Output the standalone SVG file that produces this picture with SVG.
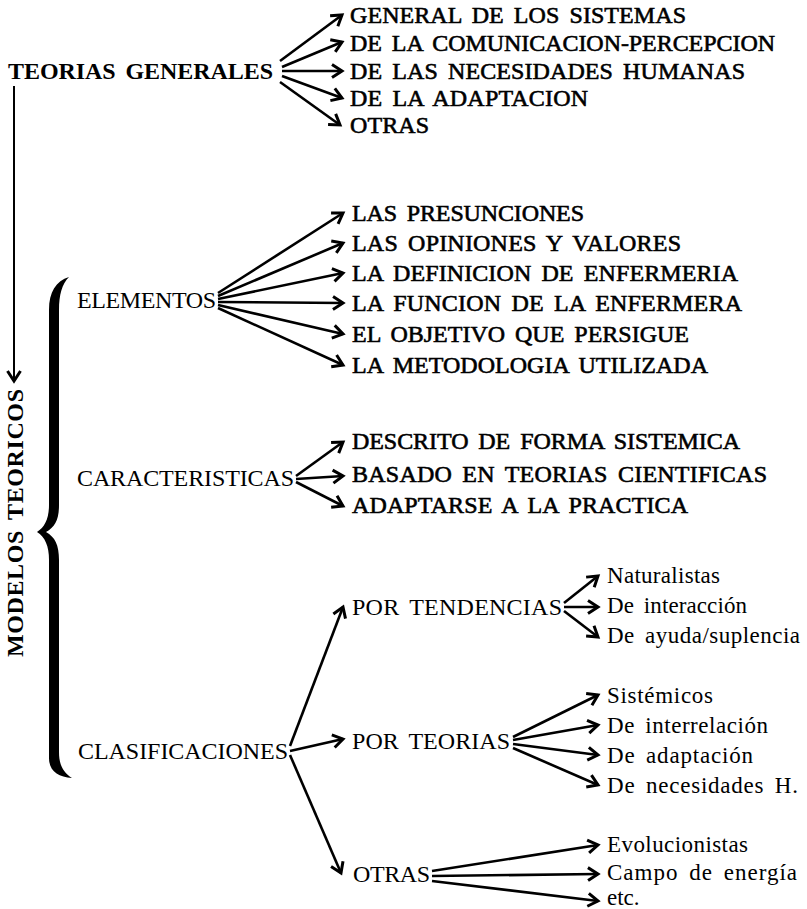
<svg xmlns="http://www.w3.org/2000/svg" width="807" height="909" viewBox="0 0 807 909">
<style>
.t{font-family:"Liberation Serif",Tinos,"Times New Roman",serif;font-size:24px;fill:#000}
.s{font-size:23px}
.b{font-weight:bold}
.h{stroke:#000;stroke-width:0.6}
.w{word-spacing:4px}
#connectors line{stroke:#000;stroke-width:2.6;fill:none;marker-end:url(#ah)}
</style>
<defs>
<marker id="ah" markerUnits="userSpaceOnUse" viewBox="-14 -9 16 18" refX="0" refY="0" markerWidth="16" markerHeight="18" orient="auto" overflow="visible">
<path d="M-10,-6.5 L0,0 L-10,6.5" fill="none" stroke="#000" stroke-width="3"/>
</marker>
</defs>
<rect width="807" height="909" fill="#fff"/>

<g id="teorias-generales">
<text class="t b w" x="8" y="79" textLength="265">TEORIAS GENERALES</text>
</g>
<g id="tg-items">
<text class="t h w" x="350" y="23" textLength="336">GENERAL DE LOS SISTEMAS</text>
<text class="t h w" x="350" y="51" textLength="425">DE LA COMUNICACION-PERCEPCION</text>
<text class="t h w" x="350" y="79" textLength="395">DE LAS NECESIDADES HUMANAS</text>
<text class="t h w" x="350" y="106" textLength="238">DE LA ADAPTACION</text>
<text class="t h w" x="350" y="133" textLength="79">OTRAS</text>
</g>

<g id="modelos-teoricos">
<text class="t b w" transform="translate(23,657) rotate(-90)" x="0" y="0" textLength="268">MODELOS TEORICOS</text>
<path d="M69,277 C56,281 49,292 49,310 L49,505 C49,518 45,527 37,532 C45,537 49,546 49,560 L49,758 C49,771 58,777 72,778 C63,772 59,765 59,752 L59,560 C59,545 55,537 46,532 C55,527 59,520 59,505 L59,310 C59,295 62,284 69,277 Z" fill="#000"/>
</g>

<g id="elementos">
<text class="t w" x="77" y="308" textLength="139">ELEMENTOS</text>
</g>
<g id="elementos-items">
<text class="t h w" x="352" y="221" textLength="232">LAS PRESUNCIONES</text>
<text class="t h w" x="352" y="251" textLength="329">LAS OPINIONES Y VALORES</text>
<text class="t h w" x="352" y="281" textLength="386">LA DEFINICION DE ENFERMERIA</text>
<text class="t h w" x="352" y="311" textLength="390">LA FUNCION DE LA ENFERMERA</text>
<text class="t h w" x="352" y="342" textLength="337">EL OBJETIVO QUE PERSIGUE</text>
<text class="t h w" x="352" y="373" textLength="356">LA METODOLOGIA UTILIZADA</text>
</g>

<g id="caracteristicas">
<text class="t w" x="77" y="486" textLength="217">CARACTERISTICAS</text>
</g>
<g id="caracteristicas-items">
<text class="t h w" x="352" y="449" textLength="388">DESCRITO DE FORMA SISTEMICA</text>
<text class="t h w" x="352" y="482" textLength="415">BASADO EN TEORIAS CIENTIFICAS</text>
<text class="t h w" x="352" y="513" textLength="336">ADAPTARSE A LA PRACTICA</text>
</g>

<g id="clasificaciones">
<text class="t w" x="78" y="759" textLength="210">CLASIFICACIONES</text>
</g>
<g id="por-tendencias">
<text class="t w" x="352" y="615" textLength="210">POR TENDENCIAS</text>
</g>
<g id="por-teorias">
<text class="t w" x="352" y="749" textLength="158">POR TEORIAS</text>
</g>
<g id="otras">
<text class="t w" x="353" y="882" textLength="77">OTRAS</text>
</g>

<g id="tendencias-items">
<text class="t s w" x="607" y="583" textLength="113">Naturalistas</text>
<text class="t s w" x="607" y="613" textLength="140">De interacción</text>
<text class="t s w" x="607" y="643" textLength="193">De ayuda/suplencia</text>
</g>
<g id="teorias-items">
<text class="t s w" x="607" y="703" textLength="106">Sistémicos</text>
<text class="t s w" x="607" y="733" textLength="161">De interrelación</text>
<text class="t s w" x="607" y="763" textLength="146">De adaptación</text>
<text class="t s w" x="607" y="793" textLength="191">De necesidades H.</text>
</g>
<g id="otras-items">
<text class="t s w" x="607" y="852" textLength="141">Evolucionistas</text>
<text class="t s w" x="607" y="880" textLength="190">Campo de energía</text>
<text class="t s" x="607" y="905">etc.</text>
</g>

<g id="connectors">
<line x1="14" y1="86" x2="14" y2="381" style="stroke-width:2"/>
<line x1="280" y1="61" x2="342" y2="15"/>
<line x1="282" y1="67" x2="342" y2="42"/>
<line x1="282" y1="71" x2="342" y2="71"/>
<line x1="282" y1="76" x2="342" y2="98"/>
<line x1="280" y1="82" x2="340" y2="125"/>

<line x1="218" y1="293" x2="343" y2="213"/>
<line x1="218" y1="296" x2="343" y2="243"/>
<line x1="218" y1="299" x2="343" y2="273"/>
<line x1="218" y1="302" x2="343" y2="303"/>
<line x1="218" y1="305" x2="343" y2="334"/>
<line x1="218" y1="308" x2="343" y2="365"/>

<line x1="296" y1="476" x2="343" y2="442"/>
<line x1="296" y1="479" x2="343" y2="476"/>
<line x1="296" y1="482" x2="343" y2="506"/>

<line x1="290" y1="746" x2="343" y2="607"/>
<line x1="290" y1="751" x2="343" y2="739"/>
<line x1="290" y1="755" x2="341" y2="873"/>

<line x1="564" y1="603" x2="598" y2="576"/>
<line x1="564" y1="607" x2="598" y2="607"/>
<line x1="564" y1="611" x2="598" y2="637"/>

<line x1="513" y1="737" x2="598" y2="695"/>
<line x1="513" y1="740" x2="598" y2="725"/>
<line x1="513" y1="744" x2="598" y2="755"/>
<line x1="513" y1="748" x2="598" y2="785"/>

<line x1="432" y1="871" x2="598" y2="845"/>
<line x1="432" y1="876" x2="598" y2="874"/>
<line x1="432" y1="881" x2="598" y2="901"/>
</g>
</svg>
